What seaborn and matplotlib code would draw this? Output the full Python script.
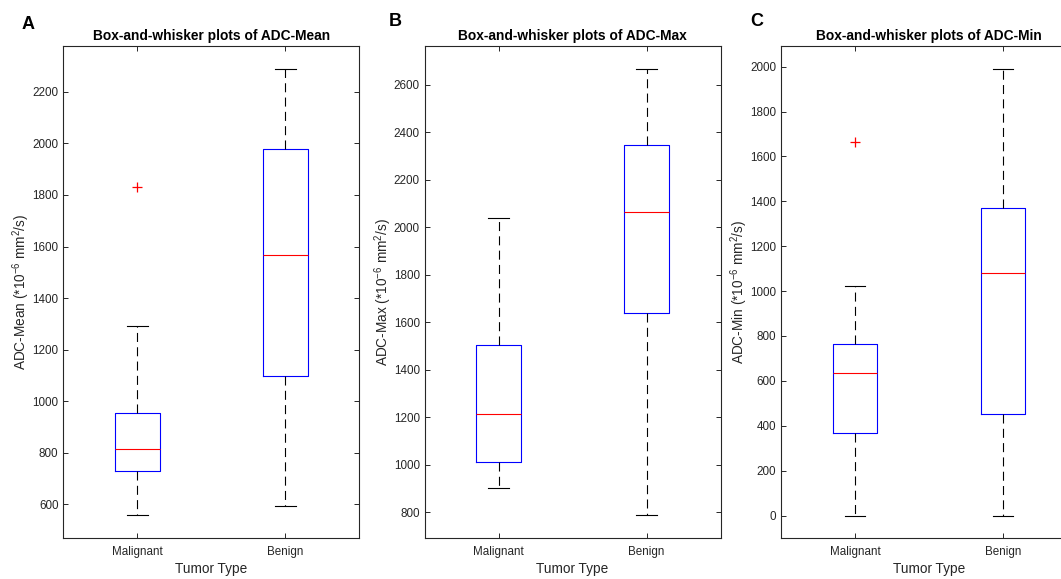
import seaborn as sns
import matplotlib.pyplot as plt
from matplotlib.ticker import MultipleLocator
import pandas as pd

# box-plot summaries: [Malignant, Benign]
groups = ['Malignant', 'Benign']

mean_low = [557, 592]
mean_q1 = [729, 1099]
mean_med = [816, 1566]
mean_q3 = [955, 1977]
mean_high = [1292, 2289]
mean_out = [[1832], []]

max_low = [901, 789]
max_q1 = [1012, 1640]
max_med = [1214, 2063]
max_q3 = [1505, 2347]
max_high = [2038, 2667]
max_out = [[], []]

min_low = [0, 0]
min_q1 = [367, 452]
min_med = [636, 1080]
min_q3 = [766, 1372]
min_high = [1022, 1990]
min_out = [[1664], []]

panels = [
    ('A', 'ADC-Mean', (mean_low, mean_q1, mean_med, mean_q3, mean_high, mean_out), (469, 2378)),
    ('B', 'ADC-Max', (max_low, max_q1, max_med, max_q3, max_high, max_out), (692, 2764)),
    ('C', 'ADC-Min', (min_low, min_q1, min_med, min_q3, min_high, min_out), (-100, 2092)),
]


def make_frame(stats):
    # sample whose linear percentiles give back exactly the read quartiles
    low, q1, med, q3, high, out = stats
    rows = []
    for i, g in enumerate(groups):
        vals = [low[i], q1[i], q1[i], med[i], med[i], q3[i], q3[i], high[i]] + out[i]
        rows += [(g, v) for v in vals]
    return pd.DataFrame(rows, columns=['Tumor Type', 'value'])


plt.rcParams['font.family'] = ['Liberation Sans', 'DejaVu Sans']
plt.rcParams['mathtext.default'] = 'regular'
plt.rcParams['lines.scale_dashes'] = False

fig = plt.figure(figsize=(10.61, 5.79), dpi=100)
W, H = 1061, 579
lefts = [63.3, 424.6, 781]
width = 296
top, bottom = 46, 538
panel_xy = [(22, 16), (389, 13), (750, 13)]
grey = '#262626'

for (tag, name, stats, ylim), left, (lx, ly) in zip(panels, lefts, panel_xy):
    ax = fig.add_axes([left / W, 1 - bottom / H, width / W, (bottom - top) / H])
    df = make_frame(stats)
    sns.boxplot(data=df, x='Tumor Type', y='value', order=groups, ax=ax,
                fill=False, width=0.3, whis=1.5, linewidth=0.8,
                linecolor='black', fliersize=6.5, capwidths=0.14,
                boxprops={'color': '#0000ff'},
                medianprops={'color': '#ff0000'},
                whiskerprops={'color': 'black', 'linestyle': (0, (6.5, 3.8))},
                capprops={'color': 'black'},
                flierprops={'marker': '+', 'markeredgecolor': '#ff0000',
                            'color': '#ff0000', 'markeredgewidth': 0.9})
    ax.set_xlim(-0.5, 1.5)
    ax.set_ylim(*ylim)
    ax.yaxis.set_major_locator(MultipleLocator(200))
    ax.tick_params(direction='in', top=True, right=True, length=3.5, width=0.7,
                   color=grey, labelcolor=grey, labelsize=8.4)
    ax.tick_params(axis='x', pad=6)
    for sp in ax.spines.values():
        sp.set_color(grey)
        sp.set_linewidth(0.8)
    ax.set_title('Box-and-whisker plots of ' + name, fontsize=9.9,
                 fontweight='bold', color='black', pad=4.5)
    ax.set_xlabel('Tumor Type', fontsize=9.8, color=grey, labelpad=2.5)
    ax.set_ylabel(name + ' (*10$^{-6}$ mm$^{2}$/s)', fontsize=9.8, color=grey,
                  labelpad=0)
    fig.text(lx / W, 1 - ly / H, tag, fontsize=13, fontweight='bold',
             ha='left', va='top')

fig.savefig('out.png', dpi=100)
